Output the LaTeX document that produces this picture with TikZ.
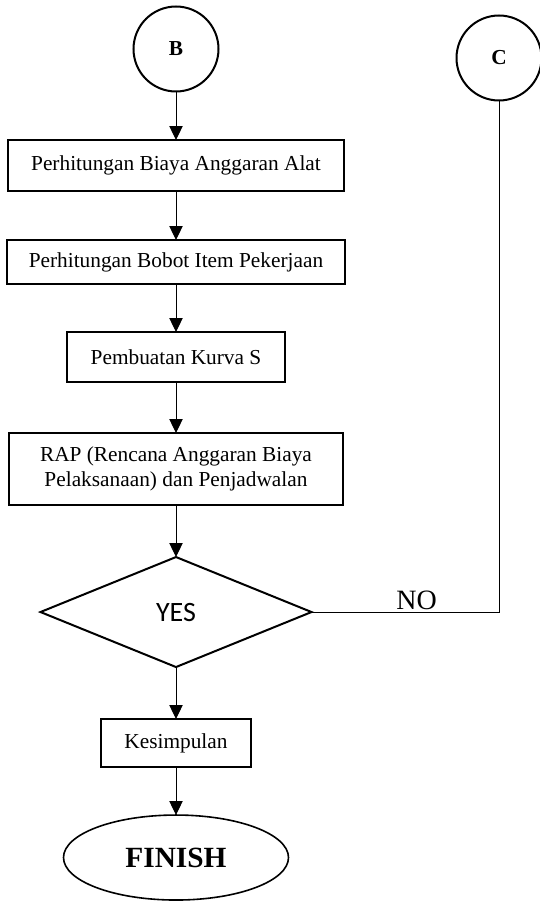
\documentclass[tikz,border=0pt]{standalone}
\usepackage{fontspec}
\setmainfont{Liberation Serif}
\newfontfamily\calibri{Carlito}
\usepackage{tikz}
\usetikzlibrary{shapes,shapes.geometric,arrows.meta,positioning}

\begin{document}
\begin{tikzpicture}[
    every node/.style={font=\fontsize{16pt}{18.75pt}\selectfont},
    conn/.style={circle, draw, line width=1.5pt, minimum size=63.75pt,
                 inner sep=0pt, outer sep=0pt, font=\fontsize{16pt}{18pt}\selectfont\bfseries},
    proc/.style={rectangle, draw, line width=1.5pt, inner sep=0pt, outer sep=0pt,
                 align=center, text centered},
    decide/.style={diamond, draw, line width=1.5pt, inner sep=0pt, outer sep=0pt,
                   minimum width=203.25pt, minimum height=82.5pt,
                   font=\fontsize{21pt}{24pt}\selectfont\calibri},
    term/.style={ellipse, draw, line width=1.2pt, inner sep=0pt, outer sep=0pt,
                 minimum width=168.75pt, minimum height=63.75pt,
                 font=\fontsize{22pt}{24pt}\selectfont\bfseries},
    arrow/.style={-{Triangle[length=10.5pt, width=10pt]}, line width=0.75pt},
    line/.style={line width=0.75pt}
]
\useasboundingbox (-132pt,36.75pt) rectangle (272.25pt,-639.75pt);

% Connectors
\node[conn] (circB) {B};
\node[conn] (circC) at (242.25pt,-6.75pt) {C};

% Main column
\node[proc, minimum width=252pt, minimum height=38.25pt, below=36.4pt of circB] (alat)
    {Perhitungan Biaya Anggaran Alat};
\node[proc, minimum width=252.75pt, minimum height=33pt, below=36.75pt of alat] (bobot)
    {Perhitungan Bobot Item Pekerjaan};
\node[proc, minimum width=163.5pt, minimum height=37.5pt, below=36pt of bobot] (kurva)
    {Pembuatan Kurva S};
\node[proc, minimum width=249.75pt, minimum height=54pt, below=38.25pt of kurva] (rap)
    {RAP (Rencana Anggaran Biaya\\Pelaksanaan) dan Penjadwalan};
\node[decide, below=39pt of rap] (cek) {YES};
\node[proc, minimum width=112.5pt, minimum height=36pt, below=39pt of cek] (simpul)
    {Kesimpulan};
\node[term, below=36pt of simpul] (finish) {FINISH};

% Arrows
\draw[arrow] (circB) -- (alat);
\draw[arrow] (alat)  -- (bobot);
\draw[arrow] (bobot) -- (kurva);
\draw[arrow] (kurva) -- (rap);
\draw[arrow] (rap)   -- (cek);
\draw[arrow] (cek)   -- (simpul);
\draw[arrow] (simpul) -- (finish);

% Loop back
\draw[line] (circC) |- node[pos=0.72, above, inner sep=1pt, font=\fontsize{21pt}{24pt}\selectfont]{NO} (cek);

\end{tikzpicture}
\end{document}
